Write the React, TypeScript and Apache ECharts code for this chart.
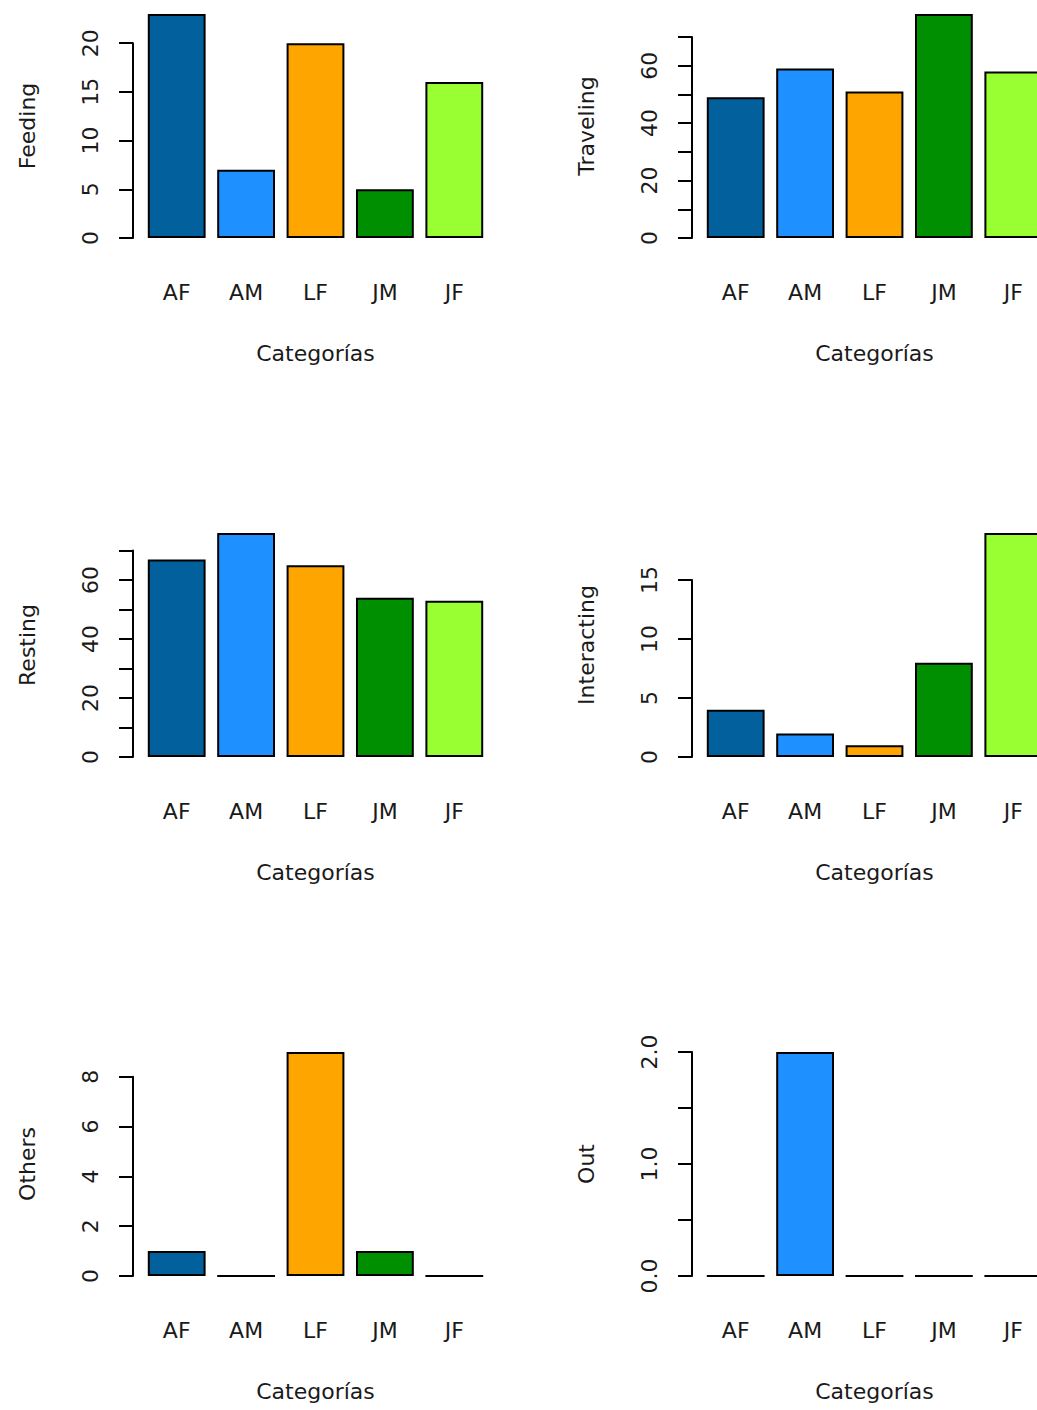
import React, { useEffect, useRef } from 'react';
import * as echarts from 'echarts';

// ---------- data ----------
const categories = ['AF', 'AM', 'LF', 'JM', 'JF'];
const barColors = ['#02609C', '#1E90FF', '#FFA500', '#008F00', '#99FF33'];

const feeding = [23, 7, 20, 5, 16];
const traveling = [49, 59, 51, 78, 58];
const resting = [67, 76, 65, 54, 53];
const interacting = [4, 2, 1, 8, 19];
const others = [1, 0, 9, 1, 0];
const out = [0, 2, 0, 0, 0];

const feedingTicks = [0, 5, 10, 15, 20];
const feedingLabels = [0, 5, 10, 15, 20];
const travelingTicks = [0, 10, 20, 30, 40, 50, 60, 70];
const travelingLabels = [0, 20, 40, 60];
const restingTicks = [0, 10, 20, 30, 40, 50, 60, 70];
const restingLabels = [0, 20, 40, 60];
const interactingTicks = [0, 5, 10, 15];
const interactingLabels = [0, 5, 10, 15];
const othersTicks = [0, 2, 4, 6, 8];
const othersLabels = [0, 2, 4, 6, 8];
const outTicks = [0, 0.5, 1, 1.5, 2];
const outLabels = [0, 1, 2];

const xTitle = 'Categorías';

const panels = [
  { title: 'Feeding', values: feeding, ticks: feedingTicks, labels: feedingLabels, digits: 0 },
  { title: 'Traveling', values: traveling, ticks: travelingTicks, labels: travelingLabels, digits: 0 },
  { title: 'Resting', values: resting, ticks: restingTicks, labels: restingLabels, digits: 0 },
  { title: 'Interacting', values: interacting, ticks: interactingTicks, labels: interactingLabels, digits: 0 },
  { title: 'Others', values: others, ticks: othersTicks, labels: othersLabels, digits: 0 },
  { title: 'Out', values: out, ticks: outTicks, labels: outLabels, digits: 1 },
];

// ---------- layout ----------
const W = 1037;
const H = 1410;
const AXIS_X = [133, 692];
const BASE_Y = [238, 757, 1276];
const PLOT_H = 242;
const BAND_OFFSET = 9;
const BAND_W = 347;
const FONT = 'DejaVu Sans';
const TEXT_COLOR = '#1a1a1a';
const FS = 22;

function buildOption() {
  const grid: any[] = [];
  const xAxis: any[] = [];
  const yAxis: any[] = [];
  const series: any[] = [];
  const textStyle = { fontFamily: FONT, fontSize: FS, color: TEXT_COLOR, lineHeight: FS };

  panels.forEach((p, i) => {
    const col = i % 2;
    const row = Math.floor(i / 2);
    const maxV = Math.max(...p.values);
    const unit = PLOT_H / (1.08 * maxV);
    const topVal = p.ticks[p.ticks.length - 1];
    const axisX = AXIS_X[col];
    const base = BASE_Y[row];
    const gB = grid.length;
    grid.push({
      left: axisX + BAND_OFFSET,
      top: base - topVal * unit,
      width: BAND_W,
      height: topVal * unit,
      containLabel: false,
      outerBoundsMode: 'none',
    });
    const gA = grid.length;
    grid.push({
      left: axisX + BAND_OFFSET,
      top: base - 1.04 * maxV * unit,
      width: BAND_W,
      height: PLOT_H,
      containLabel: false,
      outerBoundsMode: 'none',
    });

    xAxis.push({
      gridIndex: gB,
      type: 'category',
      data: categories,
      axisLine: { show: false },
      axisTick: { show: false },
      splitLine: { show: false },
      axisLabel: { ...textStyle, margin: 43, interval: 0 },
      name: xTitle,
      nameLocation: 'middle',
      nameGap: 104,
      nameTextStyle: { ...textStyle },
    });
    xAxis.push({ gridIndex: gA, type: 'category', data: categories, show: false });

    yAxis.push({
      gridIndex: gB,
      type: 'value',
      min: 0,
      max: topVal,
      interval: p.ticks[1] - p.ticks[0],
      offset: BAND_OFFSET,
      axisLine: { show: true, lineStyle: { color: '#000', width: 2 } },
      axisTick: { show: true, length: 14, lineStyle: { color: '#000', width: 2 }, customValues: p.ticks },
      axisLabel: {
        ...textStyle,
        rotate: 90,
        margin: 32,
        customValues: p.labels,
        formatter: (v: number) => Number(v).toFixed(p.digits),
      },
      splitLine: { show: false },
    });
    yAxis.push({
      gridIndex: gA,
      type: 'value',
      min: 0,
      max: 1,
      offset: BAND_OFFSET,
      axisLine: { show: false },
      axisTick: { show: false },
      axisLabel: { show: false },
      splitLine: { show: false },
      name: p.title,
      nameLocation: 'middle',
      nameGap: 95,
      nameTextStyle: { ...textStyle },
    });

    series.push({
      type: 'bar',
      xAxisIndex: gB,
      yAxisIndex: gB,
      barWidth: '83.3%',
      clip: false,
      data: p.values.map((v, k) => ({ value: v, itemStyle: { color: barColors[k] } })),
      itemStyle: { borderColor: '#000', borderWidth: 2 },
      emphasis: { disabled: true },
    });
  });

  return {
    animation: false,
    backgroundColor: '#ffffff',
    textStyle: { fontFamily: FONT },
    grid,
    xAxis,
    yAxis,
    series,
  };
}

export default function App() {
  const ref = useRef<HTMLDivElement>(null);
  useEffect(() => {
    if (!ref.current) return;
    const chart = echarts.init(ref.current, undefined, { renderer: 'svg', width: W, height: H });
    chart.setOption(buildOption() as any);
    return () => chart.dispose();
  }, []);
  return (
    <div
      ref={ref}
      style={{ position: 'absolute', left: 0, top: 0, width: W, height: H, background: '#fff' }}
    />
  );
}
